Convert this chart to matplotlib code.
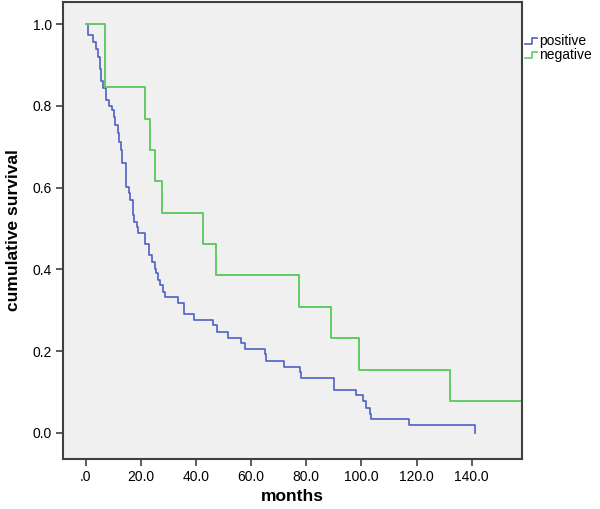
import matplotlib.pyplot as plt
from matplotlib.legend_handler import HandlerBase
from matplotlib.lines import Line2D

plt.rcParams['font.family'] = ['Liberation Sans', 'DejaVu Sans']

# survival steps (time of drop, survival after drop)
pos_time = [0, 0.8, 2.7, 3.8, 4.5, 5.3, 5.7, 6.3, 7.4, 8.6, 9.5, 10.2, 10.8, 11.7, 12.2,
            12.8, 13.2, 14.8, 15.6, 16.2, 17.1, 17.7, 18.5, 19.1, 21.6, 23.0, 24.2, 25.0,
            25.6, 26.2, 27.0, 28.0, 28.6, 33.4, 35.6, 39.3, 46.2, 47.6, 51.6, 56.4, 57.9,
            65.0, 65.3, 71.8, 77.8, 78.2, 89.9, 98.2, 100.6, 101.8, 103.0, 103.6, 117.3, 141.1]
pos_surv = [1.0, 0.973, 0.957, 0.94, 0.92, 0.89, 0.86, 0.843, 0.814, 0.80, 0.79, 0.773, 0.753, 0.733, 0.712,
            0.692, 0.659, 0.602, 0.586, 0.569, 0.533, 0.516, 0.504, 0.49, 0.463, 0.435, 0.418, 0.402,
            0.39, 0.374, 0.361, 0.345, 0.333, 0.318, 0.29, 0.277, 0.263, 0.247, 0.233, 0.22, 0.204,
            0.192, 0.176, 0.161, 0.149, 0.133, 0.106, 0.092, 0.077, 0.062, 0.047, 0.033, 0.019, 0.0]

neg_time = [0, 7.0, 21.6, 23.5, 25.3, 27.7, 42.6, 47.4, 77.4, 89.1, 99.0, 132.0, 160.0]
neg_surv = [1.0, 0.846, 0.769, 0.692, 0.615, 0.538, 0.462, 0.385, 0.308, 0.231, 0.154, 0.077, 0.077]

xticks = [0, 20, 40, 60, 80, 100, 120, 140]
xlabels = ['.0', '20.0', '40.0', '60.0', '80.0', '100.0', '120.0', '140.0']
yticks = [0.0, 0.2, 0.4, 0.6, 0.8, 1.0]

blue = '#4f60c4'
green = '#62cc62'
edge = '#404040'


class StepHandler(HandlerBase):
    def create_artists(self, legend, orig_handle, xdescent, ydescent,
                       width, height, fontsize, trans):
        x = [-xdescent, -xdescent + width * 0.55, -xdescent + width * 0.55, -xdescent + width]
        y = [-ydescent + height * 0.2, -ydescent + height * 0.2,
             -ydescent + height * 0.8, -ydescent + height * 0.8]
        ln = Line2D(x, y, color=orig_handle.get_color(), lw=1.2, transform=trans)
        return [ln]


fig = plt.figure(figsize=(6.0, 5.09), dpi=100)
ax = fig.add_axes([0.105, 0.099, 0.765, 0.897])
ax.set_facecolor('#f0f0f0')

l1, = ax.plot(pos_time, pos_surv, drawstyle='steps-post', color=blue, lw=1.2, label='positive')
l2, = ax.plot(neg_time, neg_surv, drawstyle='steps-post', color=green, lw=1.4, label='negative')

ax.set_xlim(-8.2, 158.2)
ax.set_ylim(-0.063, 1.054)
ax.set_xticks(xticks)
ax.set_xticklabels(xlabels)
ax.set_yticks(yticks)
ax.set_yticklabels(['%.1f' % v for v in yticks])
ax.tick_params(axis='x', length=5, width=1.2, color=edge, labelsize=10, pad=3, labelcolor='black')
ax.tick_params(axis='y', length=5, width=1.2, color=edge, labelsize=10, pad=3, labelcolor='black')
for s in ax.spines.values():
    s.set_color(edge)
    s.set_linewidth(1.5)

ax.set_xlabel('months', fontsize=12.5, fontweight='bold', labelpad=4)
ax.set_ylabel('cumulative survival', fontsize=12.5, fontweight='bold', labelpad=8)

ax.legend(handles=[l1, l2], loc='upper left', bbox_to_anchor=(1.0, 0.935), frameon=False,
          fontsize=10, handlelength=0.9, handletextpad=0.15, labelspacing=0.0,
          borderaxespad=0.0, borderpad=0.2,
          handler_map={Line2D: StepHandler()})

fig.savefig('out.png', dpi=100)
